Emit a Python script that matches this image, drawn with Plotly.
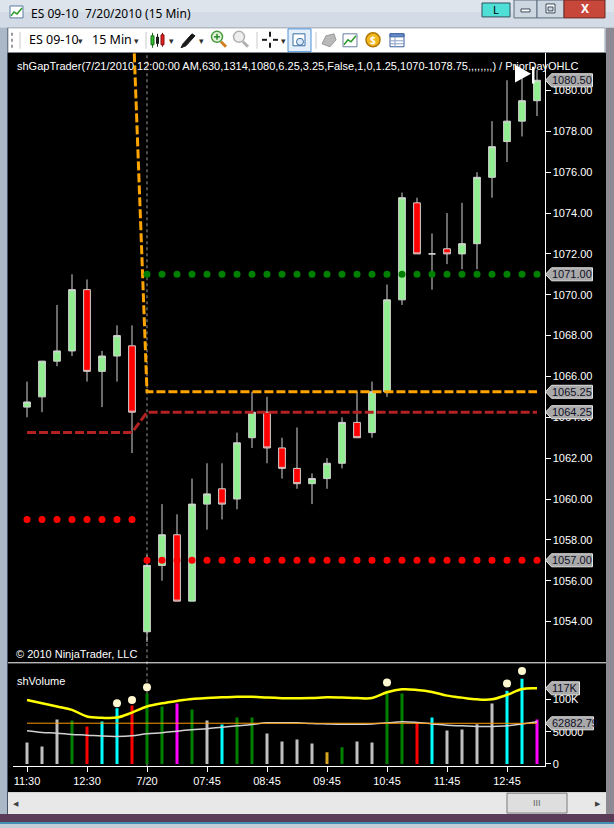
import plotly.graph_objects as go

W, H = 614, 828

# ---------------------------------------------------------------- data
bars = list(range(35))
tick_bars = [0, 4, 8, 12, 16, 20, 24, 28, 32]
tick_labels = ["11:30", "12:30", "7/20", "07:45", "08:45", "09:45", "10:45", "11:45", "12:45"]

opens = [1064.5, 1065.0, 1066.75, 1067.25, 1070.25, 1066.25, 1067.0, 1067.5,
         1053.5, 1056.75, 1058.25, 1055.0, 1059.75, 1060.5, 1060.0, 1063.0,
         1064.25, 1062.5, 1061.5, 1060.75, 1061.0, 1061.75, 1063.75, 1063.25,
         1065.25, 1069.75, 1074.5, 1072.0, 1072.25, 1072.0, 1072.5, 1075.75,
         1077.5, 1078.5, 1079.5]
highs = [1065.75, 1066.75, 1069.5, 1071.0, 1070.75, 1067.25, 1068.5, 1068.5,
         1057.25, 1059.75, 1059.25, 1061.0, 1061.75, 1061.75, 1063.25, 1065.25,
         1065.0, 1063.0, 1063.5, 1061.25, 1062.0, 1064.0, 1065.25, 1065.75,
         1070.5, 1075.0, 1074.75, 1073.0, 1074.0, 1074.5, 1076.0, 1078.5,
         1080.5, 1081.0, 1081.0]
lows = [1064.0, 1064.25, 1066.5, 1067.0, 1065.75, 1064.5, 1065.75, 1062.25,
        1053.0, 1056.0, 1055.0, 1055.0, 1058.5, 1059.0, 1059.5, 1062.5,
        1061.75, 1061.0, 1060.5, 1059.75, 1060.5, 1061.5, 1063.0, 1063.0,
        1065.0, 1069.5, 1072.0, 1070.25, 1071.5, 1071.25, 1071.25, 1074.75,
        1076.5, 1077.75, 1078.75]
closes = [1064.75, 1066.75, 1067.25, 1070.25, 1066.25, 1067.0, 1068.0, 1064.25,
          1056.75, 1058.25, 1055.0, 1059.75, 1060.25, 1059.75, 1062.75, 1064.25,
          1062.5, 1061.5, 1060.75, 1061.0, 1061.75, 1063.75, 1063.0, 1065.25,
          1069.75, 1074.75, 1072.0, 1072.0, 1072.0, 1072.5, 1075.75, 1077.25,
          1078.5, 1079.5, 1080.5]

# shGapTrader / PriorDayOHLC levels
prior_bars = [0, 1, 2, 3, 4, 5, 6, 7]
today_bars = list(range(8, 35))
gap_prev, gap_level = 1084.75, 1065.25
close_prev, close_level = 1063.25, 1064.25
low_prev, low_level = 1059.0, 1057.0
high_level = 1071.0

# shVolume
volume = [33400, 27200, 68800, 67200, 58000, 65700, 86200, 90300,
          108800, 88800, 93400, 84200, 67200, 61100, 71800, 71800,
          47200, 34900, 38000, 31800, 18000, 25700, 34900, 33400,
          113400, 108800, 64600, 71800, 51800, 53400, 61500, 93400,
          113400, 131800, 68800]
vol_class = ["grey", "grey", "grey", "green", "red", "cyan", "cyan", "red",
             "green", "green", "magenta", "green", "grey", "cyan", "green", "green",
             "grey", "grey", "grey", "grey", "gold", "green", "grey", "grey",
             "green", "green", "red", "cyan", "grey", "grey", "grey", "grey",
             "cyan", "cyan", "magenta"]
spike_bars = [6, 7, 8, 24, 32, 33]
spike_dots = [93800, 99000, 118500, 126000, 124600, 143700]
vol_fast = [99000, 93800, 88800, 83700, 73400, 71400, 71800, 79500,
            88800, 93800, 97500, 100600, 102000, 103000, 104000, 104000,
            102600, 101800, 101800, 102000, 103000, 102600, 102000, 102000,
            110800, 115400, 114500, 111400, 105700, 102600, 100000, 100000,
            106800, 116000, 117000]
vol_slow = [63100, 63100, 63100, 63100, 63100, 63100, 63100, 63100,
            63100, 63100, 63100, 63100, 63100, 63100, 63100, 63200,
            63300, 63300, 63200, 63100, 63000, 63000, 62900, 62900,
            62800, 62700, 62700, 62700, 62700, 62700, 62800, 62800,
            62800, 62850, 62882.79]
vol_mid = [51400, 48800, 47700, 45700, 44600, 43100, 42600, 43700,
           46800, 48300, 50800, 52900, 54500, 56900, 59000, 61100,
           63700, 63700, 63700, 62600, 62000, 61500, 61500, 62000,
           63400, 65200, 64100, 62000, 60000, 59000, 58000, 58000,
           59000, 62000, 65200]

price_ticks = [1054, 1056, 1058, 1060, 1062, 1064, 1066, 1068, 1070, 1072, 1074, 1076, 1078, 1080]
vol_ticks = [0, 50000, 100000]
vol_tick_text = ["0", "50000", "100K"]

VOL_COLORS = {"grey": "#c0c0c0", "green": "#008000", "red": "#ff0000",
              "cyan": "#00ffff", "magenta": "#ff00ff", "gold": "#daa520"}

CHART_FONT = "Liberation Sans, Arial, sans-serif"
UI_FONT = "Noto Sans, DejaVu Sans, sans-serif"

# ---------------------------------------------------------------- geometry helpers (pixels -> paper)
def px(x):
    return x / W

def py(y):
    return 1 - y / H

shapes = []
annotations = []

def rect(x0, y0, x1, y1, fill, line=None, lw=1, layer="below"):
    shapes.append(dict(type="rect", xref="paper", yref="paper",
                       x0=px(x0), x1=px(x1), y0=py(y1), y1=py(y0),
                       fillcolor=fill, layer=layer,
                       line=dict(color=line if line else fill, width=lw if line else 0)))

def seg(x0, y0, x1, y1, color, lw=1, dash="solid", layer="below"):
    shapes.append(dict(type="line", xref="paper", yref="paper",
                       x0=px(x0), x1=px(x1), y0=py(y0), y1=py(y1), layer=layer,
                       line=dict(color=color, width=lw, dash=dash)))

def circle(cx, cy, r, fill, line, lw=1):
    shapes.append(dict(type="circle", xref="paper", yref="paper",
                       x0=px(cx - r), x1=px(cx + r), y0=py(cy + r), y1=py(cy - r),
                       fillcolor=fill, line=dict(color=line, width=lw), layer="below"))

def poly(pts, fill=None, line=None, lw=1, closed=True, layer="below"):
    d = "M " + " L ".join(f"{px(x):.5f},{py(y):.5f}" for x, y in pts)
    if closed:
        d += " Z"
    shapes.append(dict(type="path", xref="paper", yref="paper", path=d, layer=layer,
                       fillcolor=fill if fill else "rgba(0,0,0,0)",
                       line=dict(color=line if line else "rgba(0,0,0,0)", width=lw if line else 0)))

def text(x, y, s, size=11, color="white", anchor="left", family=CHART_FONT):
    annotations.append(dict(x=px(x), y=py(y), xref="paper", yref="paper", text=s,
                            showarrow=False, xanchor=anchor, yanchor="middle",
                            font=dict(family=family, size=size, color=color)))

def tag(value, label, yref, width):
    # grey value box with arrow pointing at the right axis
    shapes.append(dict(type="path", xref="paper", yref=yref, xsizemode="pixel", ysizemode="pixel",
                       xanchor=px(544.5), yanchor=value,
                       path=f"M 1,0 L 7,6.5 L {width},6.5 L {width},-6.5 L 7,-6.5 Z",
                       fillcolor="#a9a9a9", line=dict(color="#e4e4e4", width=1), layer="above"))
    annotations.append(dict(x=px(550), y=value, xref="paper", yref=yref, text=label,
                            showarrow=False, xanchor="left", yanchor="middle",
                            font=dict(family=CHART_FONT, size=11, color="#101028")))

# ---------------------------------------------------------------- window chrome
rect(0, 0, 614, 28, "#d3dce6")
rect(0, 0, 614, 12, "#dde4ec")
rect(0, 28, 8, 818, "#aab8c8")
seg(7.5, 28, 7.5, 818, "#445468")
rect(606, 28, 614, 818, "#8e8a94")
rect(0, 818, 614, 828, "#5b3c58")
seg(0, 827, 614, 827, "#39aed6", lw=1.5)

# title bar
rect(10, 6, 23, 18, "#ffffff", line="#5a7aa0")
poly([(11, 16), (14, 12), (17, 14), (22, 8)], line="#2a9a2a", lw=1.5, closed=False)
text(29, 14, "ES 09-10&nbsp; 7/20/2010 (15 Min)", size=12, color="black", family=UI_FONT)
rect(482, 3, 510, 17, "#4ee0d6", line="#2f4f5f")
text(496, 10, "L", size=11, color="black", anchor="center", family=UI_FONT)
rect(514, 0, 537, 18, "#cdd7e2", line="#5d6d7e")
rect(537, 0, 564, 18, "#cdd7e2", line="#5d6d7e")
rect(564, 0, 605, 18, "#c8473b", line="#6b2a24")
rect(521, 9, 530, 12, "#ffffff", line="#3c4a58")
rect(546, 4, 555, 13, "#ffffff", line="#3c4a58")
rect(548, 7, 553, 11, "#cdd7e2", line="#3c4a58")
text(584.5, 9, "<b>X</b>", size=12, color="white", anchor="center", family=UI_FONT)

# toolbar
rect(8, 28, 605, 53, "#ffffff", line="#9aa5b1")
seg(12, 33, 12, 48, "#9a9a9a", lw=2, dash="dot")
seg(20, 32, 20, 49, "#c8c8c8")
text(27, 40, "ES 09-10", size=12.5, color="black", family=UI_FONT)
text(80, 41, "▾", size=9, color="#303030", anchor="center", family=UI_FONT)
text(90, 40, "15 Min", size=12.5, color="black", family=UI_FONT)
text(136, 41, "▾", size=9, color="#303030", anchor="center", family=UI_FONT)
seg(146, 32, 146, 49, "#c8c8c8")
seg(152.5, 33, 152.5, 48, "#1a6a1a")
rect(151, 36, 154, 45, "#2fc02f", line="#1a6a1a")
seg(157.5, 34, 157.5, 47, "#1a1a1a")
rect(156, 37, 159, 44, "#1a1a1a")
seg(162.5, 33, 162.5, 47, "#8a1010")
rect(161, 35, 164, 45, "#e02020", line="#8a1010")
text(171, 41, "▾", size=9, color="#303030", anchor="center", family=UI_FONT)
poly([(181, 48), (183, 44), (192, 34), (195, 36), (186, 46)], fill="#1a1a1a", line="#1a1a1a")
text(201, 41, "▾", size=9, color="#303030", anchor="center", family=UI_FONT)
seg(221, 42, 226, 47, "#d08020", lw=3)
circle(217, 37, 5.5, "#e2f3da", "#4b9a3f", lw=1.5)
seg(214, 37, 220, 37, "#2a8a2a", lw=1.5)
seg(217, 34, 217, 40, "#2a8a2a", lw=1.5)
seg(243, 42, 248, 47, "#b0b0b0", lw=3)
circle(239, 37, 5.5, "#eeeeee", "#b0b0b0", lw=1.5)
seg(257, 32, 257, 49, "#c8c8c8")
seg(262, 40, 267, 40, "#1a1a1a", lw=2)
seg(273, 40, 278, 40, "#1a1a1a", lw=2)
seg(270, 32, 270, 37, "#1a1a1a", lw=2)
seg(270, 43, 270, 48, "#1a1a1a", lw=2)
text(283, 41, "▾", size=9, color="#303030", anchor="center", family=UI_FONT)
rect(288, 29, 311, 52, "#e4effa", line="#4a90d9")
rect(293, 34, 305, 46, "#ffffff", line="#3a6ea5")
circle(300, 42, 3.5, "#dbe8f5", "#3a6ea5")
seg(316, 32, 316, 49, "#c8c8c8")
poly([(322, 44), (326, 36), (334, 34), (336, 40), (330, 47)], fill="#b9b9b9", line="#9a9a9a")
rect(343, 34, 357, 47, "#ffffff", line="#6a7fa0")
poly([(344, 45), (348, 40), (351, 42), (356, 36)], line="#2a9a2a", lw=1.5, closed=False)
circle(373, 40, 7, "#f2b820", "#b07800", lw=1.5)
text(373, 40.5, "<b>$</b>", size=10, color="white", anchor="center", family=UI_FONT)
rect(390, 34, 404, 47, "#ffffff", line="#3a5f9a")
rect(390, 34, 404, 37, "#6a8fd0", line="#3a5f9a")
seg(390, 41, 404, 41, "#8aa0c8")
seg(390, 44, 404, 44, "#8aa0c8")
seg(395, 37, 395, 47, "#8aa0c8")

# chart area and scroll bar
rect(8, 53, 606, 796, "#000000")
rect(8, 796, 606, 818, "#e8e8e8")
text(16, 807, "◀", size=7, color="#404040", anchor="center", family=UI_FONT)
text(598, 807, "▶", size=7, color="#404040", anchor="center", family=UI_FONT)
rect(507, 797, 567, 817, "#dedede", line="#7a7a7a")
text(537, 807, "III", size=9, color="#606060", anchor="center", family=CHART_FONT)

# day break and pane separator
shapes.append(dict(type="line", xref="x", yref="paper", x0=today_bars[0], x1=today_bars[0],
                   y0=py(770), y1=py(53), layer="below",
                   line=dict(color="#9a9a9a", width=1, dash="dot")))
seg(8, 666, 606, 666, "#ffffff", layer="above")

# end-of-data marker
poly([(515, 65), (531, 74), (515, 83)], fill="#ffffff", layer="above")
rect(532, 67, 534.5, 84, "#ffffff", layer="above")

# pane texts
text(15, 66, "shGapTrader(7/21/2010 12:00:00 AM,630,1314,1080,6.25,3.25,False,1,0,1.25,"
             "1070-1078.75,,,,,,,,) / PriorDayOHLC", size=11)
text(14, 657, "© 2010 NinjaTrader, LLC", size=11)
text(15, 684, "shVolume", size=11)

# ---------------------------------------------------------------- traces
fig = go.Figure()

fig.add_trace(go.Candlestick(
    x=bars, open=opens, high=highs, low=lows, close=closes,
    increasing=dict(fillcolor="#90ee90", line=dict(color="#d4d4d4", width=1)),
    decreasing=dict(fillcolor="#ff0000", line=dict(color="#d4d4d4", width=1)),
    whiskerwidth=0, showlegend=False, xaxis="x", yaxis="y"))

fig.add_trace(go.Scatter(
    x=prior_bars + today_bars,
    y=[close_prev] * len(prior_bars) + [close_level] * len(today_bars),
    mode="lines", line=dict(color="#b22222", width=3, dash="9px,3px"), yaxis="y"))
fig.add_trace(go.Scatter(
    x=[prior_bars[-1]] + today_bars,
    y=[gap_prev] + [gap_level] * len(today_bars),
    mode="lines", line=dict(color="#ffa500", width=3, dash="9px,3px"), yaxis="y"))
fig.add_trace(go.Scatter(
    x=today_bars, y=[high_level] * len(today_bars),
    mode="markers", marker=dict(color="#008000", size=7), yaxis="y"))
fig.add_trace(go.Scatter(
    x=prior_bars + today_bars,
    y=[low_prev] * len(prior_bars) + [low_level] * len(today_bars),
    mode="markers", marker=dict(color="#ff0000", size=7), yaxis="y"))

fig.add_trace(go.Bar(
    x=bars, y=volume, width=0.2, yaxis="y2",
    marker=dict(color=[VOL_COLORS[c] for c in vol_class], line=dict(width=0))))
fig.add_trace(go.Scatter(x=bars, y=vol_mid, mode="lines", yaxis="y2",
                         line=dict(color="#d2d2d2", width=1.5, shape="spline")))
fig.add_trace(go.Scatter(x=bars, y=vol_slow, mode="lines", yaxis="y2",
                         line=dict(color="#ff9900", width=1)))
fig.add_trace(go.Scatter(x=bars, y=vol_fast, mode="lines", yaxis="y2",
                         line=dict(color="#ffff00", width=2.5, shape="spline")))
fig.add_trace(go.Scatter(x=spike_bars, y=spike_dots, mode="markers", yaxis="y2",
                         marker=dict(color="#fff8d0", size=8)))

# axis value tags
tag(closes[-1], f"{closes[-1]:.2f}", "y", 48)
tag(high_level, f"{high_level:.2f}", "y", 48)
tag(gap_level, f"{gap_level:.2f}", "y", 48)
tag(close_level, f"{close_level:.2f}", "y", 48)
tag(low_level, f"{low_level:.2f}", "y", 48)
tag(vol_fast[-1], f"{vol_fast[-1] / 1000:.0f}K", "y2", 35)
tag(vol_slow[-1], f"{vol_slow[-1]:.2f}", "y2", 49)

# ---------------------------------------------------------------- layout
axis_font = dict(family=CHART_FONT, size=11, color="white")
fig.update_layout(
    width=W, height=H, autosize=False,
    margin=dict(l=0, r=0, t=0, b=0),
    paper_bgcolor="#c4cdd8", plot_bgcolor="#000000",
    showlegend=False, hovermode=False, boxgap=0.36,
    shapes=shapes, annotations=annotations,
    xaxis=dict(domain=[px(13), px(544.5)], range=[-0.933, 34.5], anchor="y2",
               showline=True, linecolor="white", linewidth=1,
               tickvals=tick_bars, ticktext=tick_labels, ticks="outside", ticklen=5,
               tickcolor="white", tickfont=axis_font, showgrid=False, zeroline=False,
               rangeslider=dict(visible=False), fixedrange=True),
    yaxis=dict(domain=[py(666), py(53)], range=[1051.982, 1081.848], side="right", anchor="x",
               showline=True, linecolor="white", linewidth=1,
               tickvals=price_ticks, ticktext=[f"{v:.2f}" for v in price_ticks],
               ticks="outside", ticklen=5, tickcolor="white", tickfont=axis_font,
               showgrid=False, zeroline=False, fixedrange=True),
    yaxis2=dict(domain=[py(770), py(666)], range=[-3540, 156470], side="right", anchor="x",
                showline=True, linecolor="white", linewidth=1,
                tickvals=vol_ticks, ticktext=vol_tick_text,
                ticks="outside", ticklen=5, tickcolor="white", tickfont=axis_font,
                showgrid=False, zeroline=False, fixedrange=True),
)

# page margin off so the 614x828 figure fills the window
fig.write_html("out.html", config={"displayModeBar": False},
               post_script="document.body.style.margin='0';document.body.style.overflow='hidden';")
